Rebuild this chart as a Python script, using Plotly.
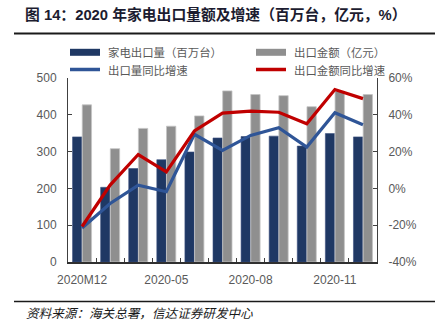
import plotly.graph_objects as go

categories = ["2020M12", "2020-03", "2020-04", "2020-05", "2020-06", "2020-07",
              "2020-08", "2020-09", "2020-10", "2020-11", "2020-12"]
shown_labels = ["2020M12", "", "", "2020-05", "", "", "2020-08", "", "", "2020-11", ""]
volume = [340, 203, 254, 278, 299, 337, 341, 342, 315, 349, 340]          # 百万台
amount = [427, 308, 363, 369, 397, 465, 455, 452, 422, 464, 455]          # 亿元
volume_yoy = [-21.5, -8.2, 1.8, -1.8, 29.4, 20.7, 28.8, 33.0, 22.5, 41.1, 34.6]  # %
amount_yoy = [-20.7, 1.8, 18.4, 9.0, 31.2, 40.9, 42.0, 41.4, 35.1, 53.7, 48.8]   # %

legend_names = ["家电出口量（百万台）", "出口金额（亿元）", "出口量同比增速", "出口金额同比增速"]
title_text = "图 14：2020 年家电出口量额及增速（百万台，亿元，%）"
source_text = "资料来源：海关总署，信达证券研发中心"

NAVY = "#1f3864"
GREY = "#8f8f8f"
BLUE = "#2f5597"
RED = "#c00000"
TXT = "#595959"

WIDTH, HEIGHT = 440, 322
ML, MR, MT, MB = 68, 63, 78, 60
PW, PH = WIDTH - ML - MR, HEIGHT - MT - MB


def X(px):
    return (px - ML) / PW


def Y(py):
    return (HEIGHT - MB - py) / PH


fig = go.Figure()
fig.add_trace(go.Bar(x=categories, y=volume, name=legend_names[0], marker_color=NAVY,
                     marker_line=dict(color="#3c5180", width=0.6), showlegend=False))
fig.add_trace(go.Bar(x=categories, y=amount, name=legend_names[1], marker_color=GREY,
                     marker_line=dict(color="#c4c4c4", width=0.8), showlegend=False))
fig.add_trace(go.Scatter(x=categories, y=volume_yoy, name=legend_names[2], yaxis="y2",
                         mode="lines", line=dict(color=BLUE, width=3.2), showlegend=False))
fig.add_trace(go.Scatter(x=categories, y=amount_yoy, name=legend_names[3], yaxis="y2",
                         mode="lines", line=dict(color=RED, width=3.2), showlegend=False))

tickfont = dict(family="Liberation Sans, Arial, sans-serif", size=12, color=TXT)
fig.update_layout(
    width=WIDTH, height=HEIGHT,
    margin=dict(l=ML, r=MR, t=MT, b=MB, pad=0),
    paper_bgcolor="white", plot_bgcolor="white",
    barmode="group", bargap=0.31, bargroupgap=0.04,
    xaxis=dict(type="category", tickvals=categories, ticktext=shown_labels,
               tickson="boundaries", ticks="inside", ticklen=4, tickcolor="#404040",
               tickangle=0,
               showline=True, linecolor="#303030", linewidth=1.5,
               showgrid=False, tickfont=tickfont, ticklabelstandoff=6),
    yaxis=dict(range=[0, 500], tickvals=[0, 100, 200, 300, 400, 500],
               ticks="inside", ticklen=4, tickcolor="#404040",
               showline=True, linecolor="#404040", linewidth=1,
               showgrid=False, zeroline=False, tickfont=tickfont, ticklabelstandoff=8),
    yaxis2=dict(range=[-40, 60], tickvals=[-40, -20, 0, 20, 40, 60],
                ticktext=["-40%", "-20%", "0%", "20%", "40%", "60%"],
                overlaying="y", side="right",
                ticks="inside", ticklen=4, tickcolor="#404040",
                showline=True, linecolor="#404040", linewidth=1,
                showgrid=False, zeroline=False, tickfont=tickfont, ticklabelstandoff=8),
)

shapes = []
annotations = []
# title and rules
annotations.append(dict(xref="paper", yref="paper", x=X(23), y=Y(15), xanchor="left",
                        yanchor="middle", showarrow=False, text="<b>" + title_text + "</b>",
                        font=dict(family="Liberation Sans, Noto Sans CJK SC", size=14.8, color="#1c1c30")))
shapes.append(dict(type="line", xref="paper", yref="paper", x0=X(14), x1=X(435),
                   y0=Y(33.5), y1=Y(33.5), line=dict(color="#1a1a1a", width=2)))
shapes.append(dict(type="line", xref="paper", yref="paper", x0=X(14), x1=X(435),
                   y0=Y(301.5), y1=Y(301.5), line=dict(color="#1a1a1a", width=1.5)))
annotations.append(dict(xref="paper", yref="paper", x=X(24), y=Y(312), xanchor="left",
                        yanchor="middle", showarrow=False, text="<i>" + source_text + "</i>",
                        font=dict(family="Noto Sans CJK SC", size=12.6, color="#1a1a1a")))

# manual legend
leg_font = dict(family="Noto Sans CJK SC", size=11.4, color=TXT)
entries = [
    (70, 52.3, "bar", NAVY, legend_names[0]),
    (256, 52.3, "bar", GREY, legend_names[1]),
    (70, 69.5, "line", BLUE, legend_names[2]),
    (256, 69.5, "line", RED, legend_names[3]),
]
for x0, yc, kind, col, name in entries:
    if kind == "bar":
        shapes.append(dict(type="rect", xref="paper", yref="paper", x0=X(x0), x1=X(x0 + 30),
                           y0=Y(yc + 3.5), y1=Y(yc - 3.5), fillcolor=col, line=dict(width=0)))
    else:
        shapes.append(dict(type="line", xref="paper", yref="paper", x0=X(x0), x1=X(x0 + 30),
                           y0=Y(yc), y1=Y(yc), line=dict(color=col, width=3.5)))
    annotations.append(dict(xref="paper", yref="paper", x=X(x0 + 36), y=Y(yc), xanchor="left",
                            yanchor="middle", showarrow=False, text=name, font=leg_font,
                            valign="middle"))

fig.update_layout(shapes=shapes, annotations=annotations)
fig.write_html("out.html")
